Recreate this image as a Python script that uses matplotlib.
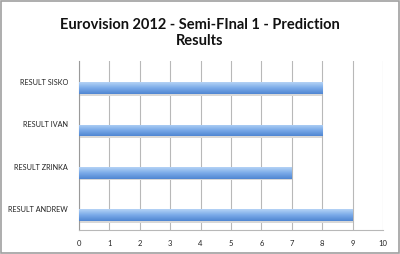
import matplotlib
matplotlib.use("Agg")
import matplotlib.pyplot as plt
import numpy as np
from matplotlib.colors import LinearSegmentedColormap

categories = ["RESULT ANDREW", "RESULT ZRINKA", "RESULT IVAN", "RESULT SISKO"]
values = [9, 7, 8, 8]
x_ticks = list(range(0, 11))
title = "Eurovision 2012 - Semi-FInal 1 - Prediction\nResults"

plt.rcParams['font.family'] = ['Lato', 'DejaVu Sans']

fig = plt.figure(figsize=(4, 2.54), dpi=100)
ax = fig.add_axes([0.1975, 0.0945, 0.76, 0.6655])

ypos = np.arange(len(categories))
offset = -0.145
h = 0.28
cmap = LinearSegmentedColormap.from_list("g", ["#4f86d2", "#7aaae8", "#b5d3f6"])
# shadow
ax.barh(ypos + offset - 0.04, values, height=h, color="#d8d8d8", zorder=2)
bars = ax.barh(ypos + offset, values, height=h, color="#7aaae8", zorder=3)
grad = np.linspace(0, 1, 100).reshape(-1, 1)
for b in bars:
    x0, y0 = b.get_x(), b.get_y()
    w, hh = b.get_width(), b.get_height()
    im = ax.imshow(grad, cmap=cmap, aspect="auto", origin="lower",
                   extent=[x0, x0 + w, y0, y0 + hh], zorder=4)
    im.set_clip_path(b)

ax.set_xlim(0, 10)
ax.set_ylim(-0.5, 3.5)
ax.set_xticks(x_ticks)
ax.set_xticklabels([str(t) for t in x_ticks], fontsize=5.5, color="#222222")
ax.set_yticks(ypos)
ax.set_yticklabels(categories, fontsize=5.2, color="#222222")
ax.tick_params(axis="both", length=0, pad=7)
ax.tick_params(axis="y", pad=8)
ax.grid(axis="x", color="#b8b8b8", linewidth=0.8, zorder=0)
ax.set_axisbelow(True)
for s in ["top", "right"]:
    ax.spines[s].set_visible(False)
ax.spines["left"].set_color("#9a9a9a")
ax.spines["bottom"].set_color("#b8b8b8")
ax.spines["left"].set_linewidth(0.8)
ax.spines["bottom"].set_linewidth(0.8)

fig.text(0.5, 0.87, title, ha="center", va="center", fontsize=10.5,
         fontweight="bold", color="#111111", linespacing=1.2)

fig.patches.append(plt.Rectangle((0.002, 0.004), 0.996, 0.992, transform=fig.transFigure,
                                 fill=False, edgecolor="#a0a0a0", linewidth=1.2))

fig.savefig("out.png", dpi=100)
